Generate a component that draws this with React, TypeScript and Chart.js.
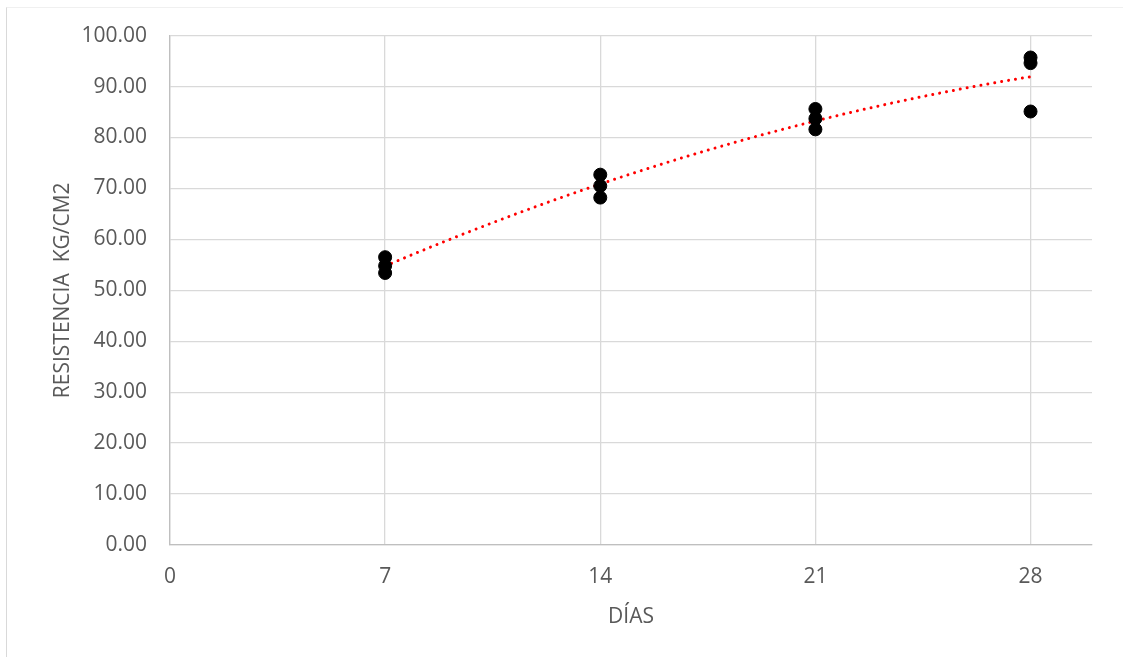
import React, { useEffect, useRef } from "react";
import { Chart, registerables } from "chart.js";

Chart.register(...registerables);

// Edad de las probetas (días) y resistencia medida (kg/cm2)
const diasEnsayo = [7, 7, 7, 14, 14, 14, 21, 21, 21, 28, 28, 28];
const resistencia = [56.5, 54.8, 53.4, 72.7, 70.5, 68.2, 85.6, 83.7, 81.6, 95.7, 94.6, 85.1];

const ticksDias = [0, 7, 14, 21, 28];

const FONT = "'Open Sans', 'Noto Sans', sans-serif";
const TEXT_COLOR = "#595959";
const FONT_SIZE = 21;

// Tendencia polinómica de orden 2 por mínimos cuadrados
function ajustePolinomico(xs: number[], ys: number[]) {
  const n = xs.length;
  let s0 = n, s1 = 0, s2 = 0, s3 = 0, s4 = 0, t0 = 0, t1 = 0, t2 = 0;
  for (let i = 0; i < n; i++) {
    const x = xs[i], y = ys[i];
    s1 += x; s2 += x * x; s3 += x ** 3; s4 += x ** 4;
    t0 += y; t1 += x * y; t2 += x * x * y;
  }
  const m = [
    [s0, s1, s2, t0],
    [s1, s2, s3, t1],
    [s2, s3, s4, t2],
  ];
  for (let c = 0; c < 3; c++) {
    for (let r = c + 1; r < 3; r++) {
      const f = m[r][c] / m[c][c];
      for (let k = c; k < 4; k++) m[r][k] -= f * m[c][k];
    }
  }
  const coef = [0, 0, 0];
  for (let r = 2; r >= 0; r--) {
    let s = m[r][3];
    for (let k = r + 1; k < 3; k++) s -= m[r][k] * coef[k];
    coef[r] = s / m[r][r];
  }
  return (x: number) => coef[0] + coef[1] * x + coef[2] * x * x;
}

export default function App() {
  const canvasRef = useRef<HTMLCanvasElement | null>(null);

  useEffect(() => {
    if (!canvasRef.current) return;
    const f = ajustePolinomico(diasEnsayo, resistencia);
    const xMin = Math.min(...diasEnsayo);
    const xMax = Math.max(...diasEnsayo);
    const tendencia: { x: number; y: number }[] = [];
    const pasos = 60;
    for (let i = 0; i <= pasos; i++) {
      const x = xMin + ((xMax - xMin) * i) / pasos;
      tendencia.push({ x, y: f(x) });
    }

    const chart = new Chart(canvasRef.current, {
      type: "scatter",
      data: {
        datasets: [
          {
            type: "line",
            label: "Tendencia",
            data: tendencia,
            borderColor: "#ff0000",
            borderWidth: 3,
            borderDash: [0.01, 7],
            borderCapStyle: "round",
            pointRadius: 0,
            fill: false,
            tension: 0,
            order: 2,
          },
          {
            label: "Resistencia",
            data: diasEnsayo.map((d, i) => ({ x: d, y: resistencia[i] })),
            backgroundColor: "#000000",
            borderColor: "#000000",
            pointRadius: 6.5,
            pointHoverRadius: 6.5,
            order: 1,
          },
        ],
      },
      options: {
        responsive: false,
        animation: false,
        layout: { padding: { left: 50, top: 35, right: 31, bottom: 27 } },
        plugins: {
          legend: { display: false },
          tooltip: { enabled: false },
        },
        scales: {
          x: {
            type: "linear",
            min: 0,
            max: 30,
            afterBuildTicks: (axis: any) => {
              axis.ticks = ticksDias.map((v) => ({ value: v }));
            },
            afterFit: (axis: any) => {
              axis.height = 657 - 27 - 545;
            },
            grid: { color: "#d9d9d9", lineWidth: 1.3, drawTicks: false },
            border: { color: "#bfbfbf", width: 1.3 },
            ticks: {
              padding: 19,
              color: TEXT_COLOR,
              font: { family: FONT, size: FONT_SIZE },
              maxRotation: 0,
            },
            title: {
              display: true,
              text: "DÍAS",
              color: TEXT_COLOR,
              font: { family: FONT, size: FONT_SIZE },
              padding: { top: 8, bottom: 0 },
            },
          },
          y: {
            type: "linear",
            min: 0,
            max: 100,
            afterBuildTicks: (axis: any) => {
              const t = [];
              for (let v = 0; v <= 100; v += 10) t.push({ value: v });
              axis.ticks = t;
            },
            afterFit: (axis: any) => {
              axis.width = 170 - 50;
            },
            grid: { color: "#d9d9d9", lineWidth: 1.3, drawTicks: false },
            border: { color: "#bfbfbf", width: 1.3 },
            ticks: {
              padding: 23,
              color: TEXT_COLOR,
              font: { family: FONT, size: FONT_SIZE },
              callback: (v: any) => Number(v).toFixed(2),
            },
            title: {
              display: true,
              text: "RESISTENCIA  KG/CM2",
              color: TEXT_COLOR,
              font: { family: FONT, size: FONT_SIZE },
              padding: 0,
            },
          },
        },
      },
    });
    return () => chart.destroy();
  }, []);

  return (
    <div
      style={{
        position: "fixed",
        left: 0,
        top: 0,
        width: 1123,
        height: 657,
        background: "#ffffff",
        overflow: "hidden",
      }}
    >
      <div
        style={{
          position: "absolute",
          left: 6,
          top: 7,
          width: 1200,
          height: 700,
          borderLeft: "1.5px solid #d9d9d9",
          borderTop: "1px solid #f0f0f0",
          boxSizing: "border-box",
        }}
      />
      <canvas
        ref={canvasRef}
        width={1123}
        height={657}
        style={{ position: "absolute", left: 0, top: 0 }}
      />
    </div>
  );
}
